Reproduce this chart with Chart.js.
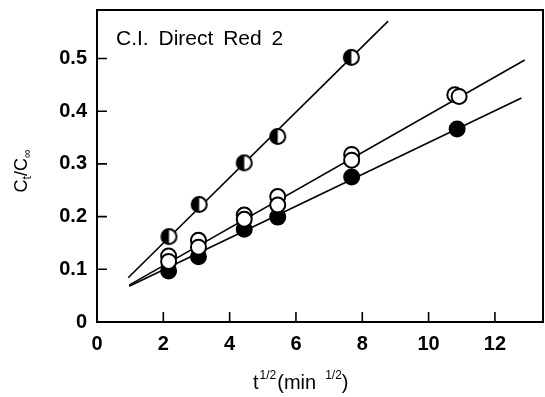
<!DOCTYPE html>
<html>
<head>
<meta charset="utf-8">
<script src="https://cdn.jsdelivr.net/npm/chart.js@4"></script>
<style>
  html, body { margin: 0; padding: 0; background: #fff; }
  #c { display: block; }
</style>
</head>
<body>
<canvas id="c" width="545" height="397"></canvas>
<script>
// 測定点 (t^1/2, Ct/C∞)
const halfX = [2.17, 3.08, 4.44, 5.45, 7.67];
const halfY = [0.162, 0.223, 0.302, 0.352, 0.502];
const openAX = [2.16, 3.06, 4.44, 5.45, 7.68, 10.79];
const openAY = [0.125, 0.155, 0.203, 0.238, 0.318, 0.431];
const openBX = [2.16, 3.06, 4.44, 5.45, 7.68, 10.92];
const openBY = [0.115, 0.142, 0.195, 0.222, 0.307, 0.428];
const fillX = [2.16, 3.06, 4.44, 5.45, 7.68, 10.86];
const fillY = [0.097, 0.124, 0.176, 0.199, 0.275, 0.366];

// 回帰直線（両端）
const fitTopX = [0.94, 8.78];
const fitTopY = [0.084, 0.571];
const fitMidX = [0.97, 12.90];
const fitMidY = [0.070, 0.497];
const fitLowX = [0.97, 12.80];
const fitLowY = [0.068, 0.425];

const xTickVals = [2, 4, 6, 8, 10, 12];
const yTickVals = [0.1, 0.2, 0.3, 0.4, 0.5];
const title = 'C.I. Direct Red 2';

const FONT = "'Liberation Sans', Arial, sans-serif";
const pts = (xs, ys) => xs.map((x, i) => ({ x, y: ys[i] }));

// 半分塗りつぶしの丸
function halfDot(r) {
  const s = 2 * r + 6;
  const c = document.createElement('canvas');
  c.width = c.height = s;
  const g = c.getContext('2d');
  const m = s / 2;
  g.beginPath(); g.arc(m, m, r, 0, Math.PI * 2); g.fillStyle = '#fff'; g.fill();
  g.beginPath(); g.arc(m, m, r, Math.PI / 2, Math.PI * 1.5); g.closePath(); g.fillStyle = '#000'; g.fill();
  g.beginPath(); g.arc(m, m, r, 0, Math.PI * 2); g.lineWidth = 2; g.strokeStyle = '#000'; g.stroke();
  return c;
}

const lineDs = (xs, ys) => ({
  data: pts(xs, ys), showLine: true, pointRadius: 0,
  borderColor: '#000', borderWidth: 1.6, fill: false, order: 10
});
const dotDs = (xs, ys, fill, order) => ({
  data: pts(xs, ys), showLine: false, pointRadius: 7.5, pointHoverRadius: 7.5,
  pointBackgroundColor: fill, pointBorderColor: '#000', pointBorderWidth: 2, order
});

// 枠・目盛り・軸タイトル
const decor = {
  id: 'decor',
  afterDraw(chart) {
    const { ctx, chartArea: a, scales } = chart;
    ctx.save();
    ctx.strokeStyle = '#000';
    ctx.lineWidth = 2;
    ctx.strokeRect(a.left, a.top, a.right - a.left, a.bottom - a.top);
    ctx.lineWidth = 1.6;
    ctx.beginPath();
    xTickVals.forEach(v => {
      const px = scales.x.getPixelForValue(v);
      ctx.moveTo(px, a.bottom); ctx.lineTo(px, a.bottom - 10);
    });
    yTickVals.forEach(v => {
      const py = scales.y.getPixelForValue(v);
      ctx.moveTo(a.left, py); ctx.lineTo(a.left + 10, py);
    });
    ctx.stroke();

    ctx.fillStyle = '#000';
    ctx.textBaseline = 'alphabetic';
    // 図中タイトル
    ctx.font = '21px ' + FONT;
    ctx.wordSpacing = '4px';
    ctx.fillText(title, 116, 45);
    ctx.wordSpacing = '0px';

    // x 軸タイトル t^1/2(min 1/2)
    const big = '20px ' + FONT, sm = '12px ' + FONT;
    const parts = [['t', big, 0, 0], ['1/2', sm, -10, 1], ['(min', big, 0, 1], ['1/2', sm, -10, 9], [')', big, 0, 0]];
    let x = 253;
    parts.forEach(p => { ctx.font = p[1]; x += p[3]; ctx.fillText(p[0], x, 389 + p[2]); x += ctx.measureText(p[0]).width; });

    // y 軸タイトル Ct/C∞
    ctx.translate(27, 171);
    ctx.rotate(-Math.PI / 2);
    const ybig = '18px ' + FONT, ysm = '12px ' + FONT;
    const yparts = [['C', ybig, 0], ['t', ysm, 4], ['/C', ybig, 0], ['∞', ysm, 4]];
    let w = 0;
    yparts.forEach(p => { ctx.font = p[1]; w += ctx.measureText(p[0]).width; });
    x = -w / 2;
    yparts.forEach(p => { ctx.font = p[1]; ctx.fillText(p[0], x, p[2]); x += ctx.measureText(p[0]).width; });
    ctx.restore();
  }
};

const noPad = s => { s.paddingTop = 0; s.paddingBottom = 0; s.paddingLeft = 0; s.paddingRight = 0; };

new Chart(document.getElementById('c'), {
  type: 'scatter',
  data: {
    datasets: [
      lineDs(fitTopX, fitTopY),
      lineDs(fitMidX, fitMidY),
      lineDs(fitLowX, fitLowY),
      dotDs(fillX, fillY, '#000', 3),
      dotDs(openAX, openAY, '#fff', 2),
      dotDs(openBX, openBY, '#fff', 1),
      Object.assign(dotDs(halfX, halfY, '#fff', 0), { pointStyle: halfDot(7.5) })
    ]
  },
  options: {
    responsive: false,
    animation: false,
    devicePixelRatio: 1,
    layout: { autoPadding: false, padding: { top: 10, right: 2, left: 0, bottom: 0 } },
    plugins: { legend: { display: false }, tooltip: { enabled: false } },
    scales: {
      x: {
        type: 'linear', min: 0, max: 13.45,
        afterFit(s) { s.height = 75; noPad(s); },
        grid: { display: false, drawTicks: false },
        border: { display: false },
        ticks: {
          stepSize: 2, includeBounds: false, padding: 10, color: '#000',
          font: { family: FONT, size: 20, weight: 'bold' }
        }
      },
      y: {
        min: 0, max: 0.592,
        afterFit(s) { s.width = 97; noPad(s); },
        grid: { display: false, drawTicks: false },
        border: { display: false },
        ticks: {
          stepSize: 0.1, includeBounds: false, padding: 10, color: '#000',
          font: { family: FONT, size: 20, weight: 'bold' },
          callback: v => (v === 0 ? '0' : v.toFixed(1))
        }
      }
    }
  },
  plugins: [decor]
});
</script>
</body>
</html>
